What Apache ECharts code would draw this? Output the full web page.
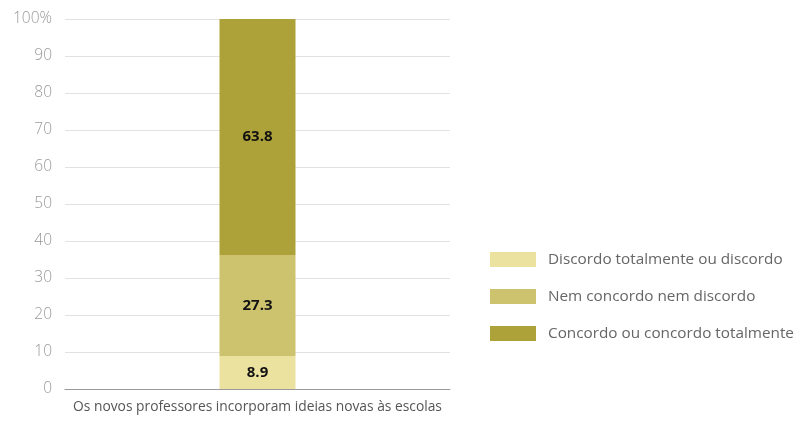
<!DOCTYPE html>
<html>
<head>
<meta charset="utf-8">
<script src="https://cdn.jsdelivr.net/npm/echarts@6/dist/echarts.min.js"></script>
<style>
  html, body { margin: 0; padding: 0; background: #ffffff; }
  #chart { width: 800px; height: 423px; }
</style>
</head>
<body>
<div id="chart"></div>
<script>
// Survey item and answer groups
const categories = ['Os novos professores incorporam ideias novas às escolas'];
const seriesNames = [
  'Discordo totalmente ou discordo',
  'Nem concordo nem discordo',
  'Concordo ou concordo totalmente'
];
const discordo = [8.9];
const neutro = [27.3];
const concordo = [63.8];
const yTicks = [0, 10, 20, 30, 40, 50, 60, 70, 80, 90, 100];

const colors = ['#ebe2a0', '#cdc26e', '#ada139'];
const values = [discordo, neutro, concordo];

const chart = echarts.init(document.getElementById('chart'), null, { renderer: 'canvas' });

chart.setOption({
  animation: false,
  grid: { left: 65, right: 350, top: 19, bottom: 34 },
  legend: {
    orient: 'vertical',
    left: 490,
    top: 252,
    padding: 0,
    itemWidth: 46,
    itemHeight: 15,
    itemGap: 22,
    icon: 'rect',
    data: seriesNames,
    textStyle: { fontFamily: 'Open Sans', fontSize: 15.3, color: '#666666', padding: [0, 0, 0, 7] }
  },
  xAxis: {
    type: 'category',
    data: categories,
    axisTick: { show: false },
    axisLine: { lineStyle: { color: '#9a9a9a', width: 1 } },
    axisLabel: { fontFamily: 'Open Sans', fontSize: 13.8, color: '#555555', margin: 11 }
  },
  yAxis: {
    type: 'value',
    min: yTicks[0],
    max: yTicks[yTicks.length - 1],
    interval: 10,
    axisLine: { show: false },
    axisTick: { show: false },
    splitLine: { lineStyle: { color: '#e2e2e2', width: 1 } },
    axisLabel: {
      fontFamily: 'Open Sans',
      fontWeight: 300,
      fontSize: 15.5,
      color: '#999999',
      margin: 13,
      formatter: v => (v === 100 ? v + '%' : String(v))
    }
  },
  series: seriesNames.map((name, i) => ({
    name,
    type: 'bar',
    stack: 'total',
    data: values[i],
    barWidth: 76,
    itemStyle: { color: colors[i] },
    label: {
      show: true,
      position: 'inside',
      color: '#111111',
      fontFamily: 'Open Sans',
      fontWeight: 'bold',
      fontSize: 15,
      formatter: p => p.value.toFixed(1)
    }
  }))
});
</script>
</body>
</html>
